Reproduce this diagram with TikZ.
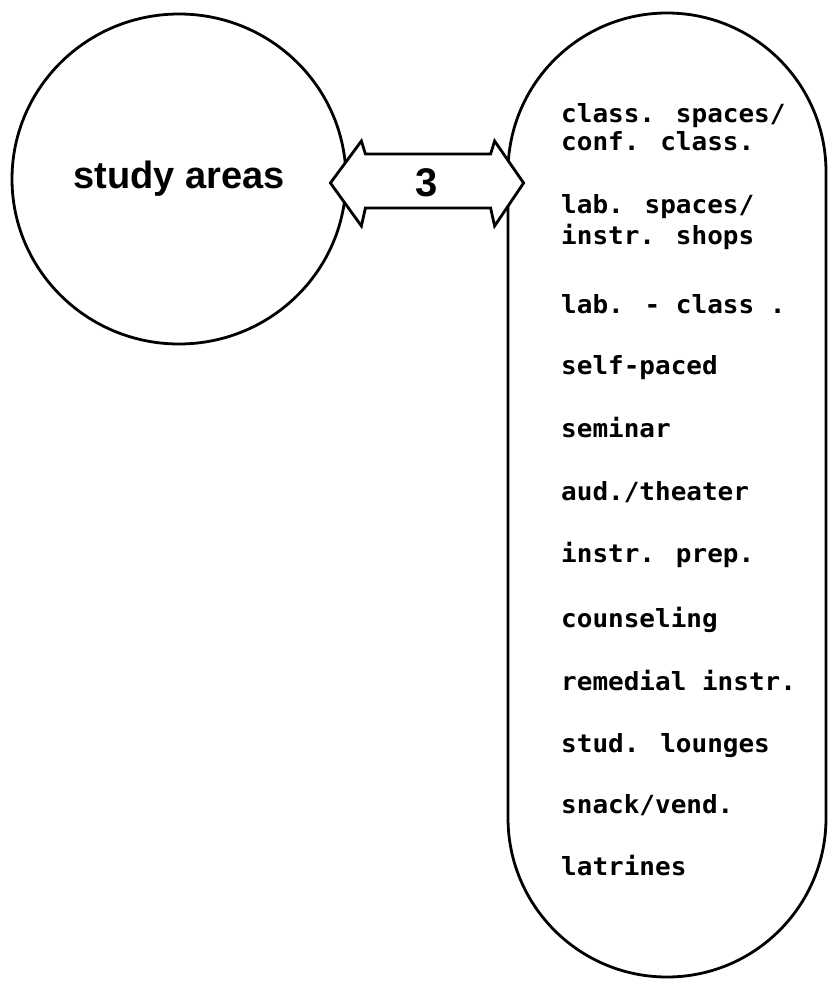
\documentclass[tikz,border=0pt]{standalone}
\usepackage{fontspec}
\setmainfont{Liberation Sans}
\newfontfamily\listfont{DejaVu Sans Mono}[FakeStretch=1.04]
\usetikzlibrary{calc,shapes.geometric}
\begin{document}
\begin{tikzpicture}[x=1pt, y=-1pt,
  outline/.style={draw=black, line width=2.8pt},
  item/.style={anchor=base west, inner sep=0pt,
    font=\listfont\bfseries\fontsize{25}{30}\selectfont},
  bigtext/.style={inner sep=0pt, font=\bfseries\fontsize{38}{44}\selectfont}]
  \useasboundingbox (0,0) rectangle (828,981);

  % the two areas
  \node[outline, ellipse, minimum width=334pt, minimum height=330pt, bigtext]
    (study) at (179,179) {study areas};
  \node[outline, rectangle, rounded corners=159pt, minimum width=318pt,
        minimum height=964pt, inner sep=0pt] (rooms) at (667,495) {};

  % broad two-headed link between them
  \coordinate (L) at ($(study.east)+(-17,4)$);
  \coordinate (R) at ($(rooms.west |- L)+(17,0)$);
  \draw[outline, fill=white, line join=miter]
    (L) -- ($(L)+(31,-42)$) -- ($(L)+(35,-29)$)
        -- ($(R)+(-33,-29)$) -- ($(R)+(-29,-42)$) -- (R)
        -- ($(R)+(-29,43)$) -- ($(R)+(-33,25)$)
        -- ($(L)+(35,25)$) -- ($(L)+(31,43)$) -- cycle;
  \node[inner sep=0pt, font=\bfseries\fontsize{40}{48}\selectfont] (num)
    at ($(L)!0.5!(R)$) {3};

  % list of spaces
  \node[item] (i1)  at (561,123) {class. spaces/};
  \node[item] (i2)  at (561,151) {conf. class.};
  \node[item] (i3)  at (561,214) {lab. spaces/};
  \node[item] (i4)  at (561,245) {instr. shops};
  \node[item] (i5)  at (561,313) {lab. - class .};
  \node[item] (i6)  at (561,374) {self-paced};
  \node[item] (i7)  at (561,437) {seminar};
  \node[item] (i8)  at (561,500) {aud./theater};
  \node[item] (i9)  at (561,562) {instr. prep.};
  \node[item] (i10) at (561,627) {counseling};
  \node[item] (i11) at (561,690) {remedial instr.};
  \node[item] (i12) at (561,752) {stud. lounges};
  \node[item] (i13) at (561,813) {snack/vend.};
  \node[item] (i14) at (561,875) {latrines};
\end{tikzpicture}
\end{document}
